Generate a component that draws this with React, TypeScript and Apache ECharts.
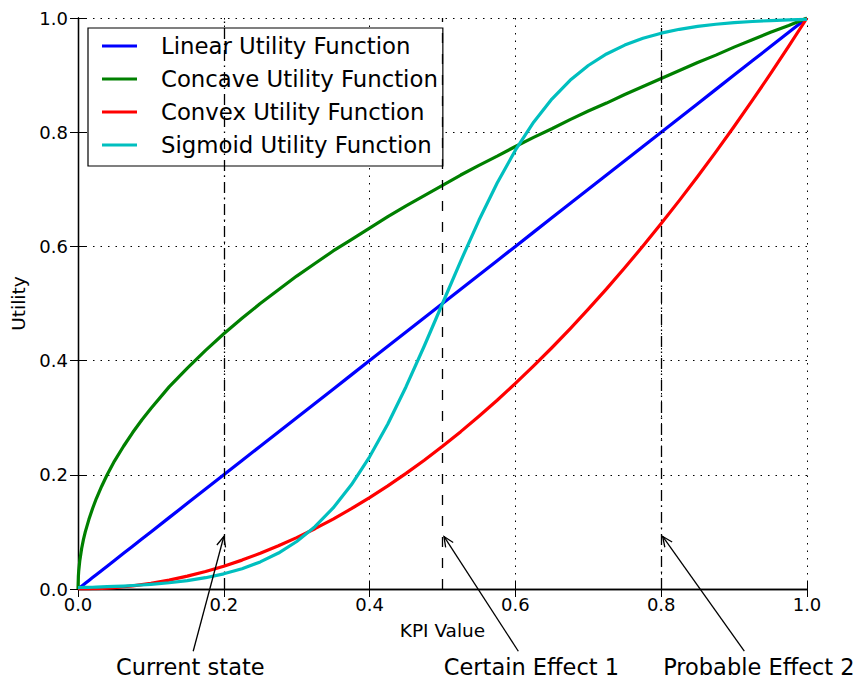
import React, { useEffect, useRef } from "react";
import * as echarts from "echarts";

// KPI sample positions (denser near 0 where the concave curve is steep)
const kpi = [
  0, 0.0005, 0.001, 0.0025, 0.005, 0.0075, 0.01, 0.015, 0.02, 0.025, 0.0325, 0.04, 0.05, 0.0625, 0.075, 0.0875,
  0.1, 0.125, 0.15, 0.175, 0.2, 0.225, 0.25, 0.275, 0.3, 0.325, 0.35, 0.375, 0.4, 0.425, 0.45, 0.475,
  0.5, 0.525, 0.55, 0.575, 0.6, 0.625, 0.65, 0.675, 0.7, 0.725, 0.75, 0.775, 0.8, 0.825, 0.85, 0.875,
  0.9, 0.925, 0.95, 0.975, 1,
];

const linearUtility = [
  0, 0.0005, 0.001, 0.0025, 0.005, 0.0075, 0.01, 0.015, 0.02, 0.025, 0.0325, 0.04, 0.05, 0.0625, 0.075, 0.0875,
  0.1, 0.125, 0.15, 0.175, 0.2, 0.225, 0.25, 0.275, 0.3, 0.325, 0.35, 0.375, 0.4, 0.425, 0.45, 0.475,
  0.5, 0.525, 0.55, 0.575, 0.6, 0.625, 0.65, 0.675, 0.7, 0.725, 0.75, 0.775, 0.8, 0.825, 0.85, 0.875,
  0.9, 0.925, 0.95, 0.975, 1,
];

const concaveUtility = [
  0, 0.022, 0.032, 0.05, 0.071, 0.087, 0.1, 0.122, 0.141, 0.158, 0.18, 0.2, 0.224, 0.25, 0.274, 0.296,
  0.316, 0.354, 0.387, 0.418, 0.447, 0.474, 0.5, 0.524, 0.548, 0.57, 0.592, 0.612, 0.632, 0.652, 0.671, 0.689,
  0.707, 0.725, 0.742, 0.758, 0.775, 0.791, 0.806, 0.822, 0.837, 0.851, 0.866, 0.88, 0.894, 0.908, 0.922, 0.935,
  0.949, 0.962, 0.975, 0.987, 1,
];

const convexUtility = [
  0, 0, 0, 0, 0, 0.0001, 0.0001, 0.0002, 0.0004, 0.0006, 0.0011, 0.0016, 0.0025, 0.0039, 0.0056, 0.0077,
  0.01, 0.0156, 0.0225, 0.0306, 0.04, 0.0506, 0.0625, 0.0756, 0.09, 0.1056, 0.1225, 0.1406, 0.16, 0.1806, 0.2025, 0.2256,
  0.25, 0.2756, 0.3025, 0.3306, 0.36, 0.3906, 0.4225, 0.4556, 0.49, 0.5256, 0.5625, 0.6006, 0.64, 0.6806, 0.7225, 0.7656,
  0.81, 0.8556, 0.9025, 0.9506, 1,
];

const sigmoidUtility = [
  0.0025, 0.0025, 0.0025, 0.0026, 0.0026, 0.0027, 0.0028, 0.0029, 0.0031, 0.0033, 0.0037, 0.004, 0.0045, 0.0052, 0.0061, 0.007,
  0.0082, 0.011, 0.0148, 0.0198, 0.0266, 0.0356, 0.0474, 0.063, 0.0832, 0.1091, 0.1419, 0.1824, 0.2315, 0.2891, 0.3543, 0.4256,
  0.5, 0.5744, 0.6457, 0.7109, 0.7685, 0.8176, 0.8581, 0.8909, 0.9168, 0.937, 0.9526, 0.9645, 0.9734, 0.9802, 0.9852, 0.989,
  0.9918, 0.9939, 0.9955, 0.9967, 0.9975,
];

const seriesNames = [
  "Linear Utility Function",
  "Concave Utility Function",
  "Convex Utility Function",
  "Sigmoid Utility Function",
];
const seriesColors = ["#0000ff", "#008000", "#ff0000", "#00bfbf"];
const seriesValues = [linearUtility, concaveUtility, convexUtility, sigmoidUtility];

// Reference KPI levels marked with vertical lines
const markerKpi = [0.2, 0.5, 0.8];
const markerDash = [
  [11, 5, 1.5, 4.5],
  [10, 11],
  [11, 5, 1.5, 4.5],
];

// Annotations below the axis: label centre, arrow tail and arrow tip (data units)
const annotationLabels = ["Current state", "Certain Effect 1", "Probable Effect 2"];
const labelAnchor = [
  [0.154, -0.137],
  [0.622, -0.137],
  [0.934, -0.137],
];
const arrowTail = [
  [0.158, -0.109],
  [0.604, -0.109],
  [0.914, -0.109],
];
const arrowTip = [
  [0.2, 0.092],
  [0.502, 0.092],
  [0.802, 0.092],
];

const FONT = "DejaVu Sans";

export default function App() {
  const ref = useRef<HTMLDivElement>(null);

  useEffect(() => {
    if (!ref.current) return;
    const chart = echarts.init(ref.current, undefined, { renderer: "svg" });

    const frameAxis = {
      type: "value" as const,
      min: 0,
      max: 1,
      interval: 0.2,
      axisLine: { show: true, lineStyle: { color: "#000", width: 1.3 } },
      axisTick: { show: true, inside: true, length: 8, lineStyle: { color: "#000", width: 1 } },
      axisLabel: { show: false },
      splitLine: { show: false },
    };

    const lineSeries = seriesNames.map((name, i) => ({
      name,
      type: "line" as const,
      data: kpi.map((x, j) => [x, seriesValues[i][j]]),
      showSymbol: false,
      symbol: "none",
      lineStyle: { color: seriesColors[i], width: 3.2, join: "round" },
      itemStyle: { color: seriesColors[i] },
      z: 3 + i,
      markLine:
        i === 0
          ? {
              silent: true,
              symbol: ["none", "none"],
              label: { show: false },
              data: markerKpi.map((v, k) => ({
                xAxis: v,
                lineStyle: { color: "#000", width: 1.3, type: markerDash[k] },
              })),
            }
          : undefined,
    }));

    // Text + open-headed arrow for each annotation
    const renderAnnotation = (params: any, api: any) => {
      const i = params.dataIndex;
      const label = api.coord([api.value(0), api.value(1)]);
      const tail = api.coord([api.value(2), api.value(3)]);
      const tip = api.coord([api.value(4), api.value(5)]);
      const dx = tail[0] - tip[0];
      const dy = tail[1] - tip[1];
      const len = Math.sqrt(dx * dx + dy * dy);
      const ux = dx / len;
      const uy = dy / len;
      const headLen = 11;
      const a = 0.42;
      const rot = (s: number) => [
        tip[0] + headLen * (ux * Math.cos(s) - uy * Math.sin(s)),
        tip[1] + headLen * (ux * Math.sin(s) + uy * Math.cos(s)),
      ];
      return {
        type: "group",
        children: [
          {
            type: "line",
            shape: { x1: tail[0], y1: tail[1], x2: tip[0], y2: tip[1] },
            style: { stroke: "#000", lineWidth: 1.3 },
          },
          {
            type: "polyline",
            shape: { points: [rot(a), tip, rot(-a)] },
            style: { stroke: "#000", lineWidth: 1.3, fill: null },
          },
          {
            type: "text",
            x: label[0],
            y: label[1],
            style: {
              text: annotationLabels[i],
              fontFamily: FONT,
              fontSize: 22.5,
              fill: "#000",
              align: "center",
              verticalAlign: "middle",
            },
          },
        ],
      };
    };

    chart.setOption({
      animation: false,
      textStyle: { fontFamily: FONT },
      grid: { left: 78, right: 50, top: 18, bottom: 92, containLabel: false, outerBoundsMode: "none" },
      legend: {
        data: seriesNames,
        orient: "vertical",
        left: 88,
        top: 28,
        padding: [6.5, 5, 9.5, 14],
        itemGap: 10,
        itemWidth: 35,
        itemHeight: 3,
        icon: "rect",
        backgroundColor: "#fff",
        borderColor: "#000",
        borderWidth: 1.2,
        borderRadius: 0,
        textStyle: {
          fontFamily: FONT,
          fontSize: 22.8,
          color: "#000",
          padding: [0, 0, 0, 19],
        },
        selectedMode: false,
      },
      xAxis: [
        {
          ...frameAxis,
          position: "bottom",
          name: "KPI Value",
          nameLocation: "middle",
          nameGap: 32,
          nameTextStyle: { fontFamily: FONT, fontSize: 18.5, color: "#000" },
          axisLabel: {
            show: true,
            margin: 6,
            fontFamily: FONT,
            fontSize: 18,
            color: "#000",
            formatter: (v: number) => v.toFixed(1),
          },
          splitLine: { show: true, lineStyle: { color: "#000", width: 1, type: [1.5, 6] } },
        },
        { ...frameAxis, position: "top" },
      ],
      yAxis: [
        {
          ...frameAxis,
          position: "left",
          name: "Utility",
          nameLocation: "middle",
          nameGap: 46,
          nameTextStyle: { fontFamily: FONT, fontSize: 18.5, color: "#000" },
          axisLabel: {
            show: true,
            margin: 10,
            fontFamily: FONT,
            fontSize: 18,
            color: "#000",
            formatter: (v: number) => v.toFixed(1),
          },
          splitLine: { show: true, lineStyle: { color: "#000", width: 1, type: [1.5, 6] } },
        },
        { ...frameAxis, position: "right" },
      ],
      series: [
        ...lineSeries,
        {
          name: "annotations",
          type: "custom",
          silent: true,
          clip: false,
          z: 10,
          renderItem: renderAnnotation,
          encode: { x: [0, 2, 4], y: [1, 3, 5] },
          data: annotationLabels.map((_, i) => [
            ...labelAnchor[i],
            ...arrowTail[i],
            ...arrowTip[i],
          ]),
        },
      ],
    });

    return () => chart.dispose();
  }, []);

  return (
    <div
      ref={ref}
      style={{ position: "fixed", left: 0, top: 0, width: 857, height: 681, background: "#fff" }}
    />
  );
}
